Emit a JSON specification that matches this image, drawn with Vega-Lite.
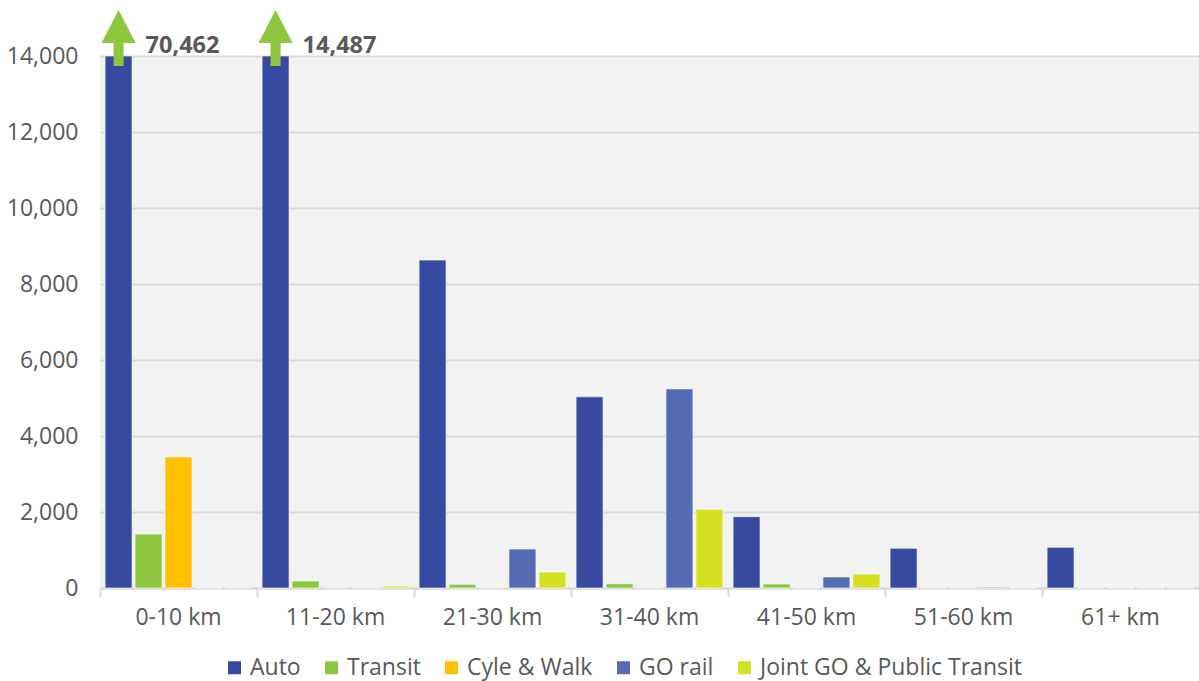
{
  "$schema": "https://vega.github.io/schema/vega-lite/v6.json",
  "autosize": {"type": "none"},
  "width": 1099,
  "height": 532,
  "padding": {"left": 100, "top": 56, "right": 0, "bottom": 93},
  "background": "white",
  "config": {
    "view": {"stroke": null, "fill": "#f2f2f2"},
    "font": "Open Sans"
  },
  "data": {
    "values": [
      {"range": "0-10 km", "mode": "Auto", "trips": 70462},
      {"range": "0-10 km", "mode": "Transit", "trips": 1420},
      {"range": "0-10 km", "mode": "Cyle & Walk", "trips": 3450},
      {"range": "0-10 km", "mode": "GO rail", "trips": 0},
      {"range": "0-10 km", "mode": "Joint GO & Public Transit", "trips": 0},
      {"range": "11-20 km", "mode": "Auto", "trips": 14487},
      {"range": "11-20 km", "mode": "Transit", "trips": 184},
      {"range": "11-20 km", "mode": "Cyle & Walk", "trips": 15},
      {"range": "11-20 km", "mode": "GO rail", "trips": 0},
      {"range": "11-20 km", "mode": "Joint GO & Public Transit", "trips": 50},
      {"range": "21-30 km", "mode": "Auto", "trips": 8630},
      {"range": "21-30 km", "mode": "Transit", "trips": 97},
      {"range": "21-30 km", "mode": "Cyle & Walk", "trips": 15},
      {"range": "21-30 km", "mode": "GO rail", "trips": 1026},
      {"range": "21-30 km", "mode": "Joint GO & Public Transit", "trips": 421},
      {"range": "31-40 km", "mode": "Auto", "trips": 5030},
      {"range": "31-40 km", "mode": "Transit", "trips": 110},
      {"range": "31-40 km", "mode": "Cyle & Walk", "trips": 0},
      {"range": "31-40 km", "mode": "GO rail", "trips": 5240},
      {"range": "31-40 km", "mode": "Joint GO & Public Transit", "trips": 2070},
      {"range": "41-50 km", "mode": "Auto", "trips": 1877},
      {"range": "41-50 km", "mode": "Transit", "trips": 105},
      {"range": "41-50 km", "mode": "Cyle & Walk", "trips": 0},
      {"range": "41-50 km", "mode": "GO rail", "trips": 290},
      {"range": "41-50 km", "mode": "Joint GO & Public Transit", "trips": 368},
      {"range": "51-60 km", "mode": "Auto", "trips": 1044},
      {"range": "51-60 km", "mode": "Transit", "trips": 0},
      {"range": "51-60 km", "mode": "Cyle & Walk", "trips": 0},
      {"range": "51-60 km", "mode": "GO rail", "trips": 18},
      {"range": "51-60 km", "mode": "Joint GO & Public Transit", "trips": 0},
      {"range": "61+ km", "mode": "Auto", "trips": 1070},
      {"range": "61+ km", "mode": "Transit", "trips": 0},
      {"range": "61+ km", "mode": "Cyle & Walk", "trips": 0},
      {"range": "61+ km", "mode": "GO rail", "trips": 0},
      {"range": "61+ km", "mode": "Joint GO & Public Transit", "trips": 0}
    ]
  },
  "encoding": {
    "x": {
      "field": "range",
      "type": "nominal",
      "sort": null,
      "title": null,
      "scale": {"paddingInner": 0, "paddingOuter": 0},
      "axis": {
        "labelAngle": 0,
        "labelFontSize": 23,
        "labelColor": "#595959",
        "labelPadding": 9,
        "labelBaseline": "top",
        "bandPosition": 0,
        "ticks": true,
        "tickSize": 9,
        "tickColor": "#d9d9d9",
        "tickWidth": 2,
        "domainColor": "#d9d9d9",
        "domainWidth": 2,
        "grid": false
      }
    },
    "xOffset": {
      "field": "mode",
      "type": "nominal",
      "scale": {
        "domain": ["Auto", "Transit", "Cyle & Walk", "GO rail", "Joint GO & Public Transit"],
        "paddingInner": 0.1,
        "paddingOuter": 0.17
      }
    },
    "y": {
      "field": "trips",
      "type": "quantitative",
      "title": null,
      "scale": {"domain": [0, 14000], "clamp": true, "nice": false},
      "axis": {
        "values": [0, 2000, 4000, 6000, 8000, 10000, 12000, 14000],
        "format": ",d",
        "labelFontSize": 23,
        "labelColor": "#595959",
        "labelPadding": 22,
        "ticks": false,
        "domain": false,
        "gridColor": "#d9d9d9",
        "gridWidth": 2
      }
    }
  },
  "layer": [
    {
      "mark": {"type": "bar", "stroke": "white", "strokeOpacity": 0.6, "strokeWidth": 1},
      "encoding": {
        "color": {
          "field": "mode",
          "type": "nominal",
          "scale": {
            "domain": ["Auto", "Transit", "Cyle & Walk", "GO rail", "Joint GO & Public Transit"],
            "range": ["#384aa0", "#8dc63f", "#ffc000", "#546cb4", "#d7df23"]
          },
          "legend": {
            "title": null,
            "orient": "none",
            "legendX": 123,
            "legendY": 600,
            "padding": 0,
            "direction": "horizontal",
            "symbolType": "square",
            "symbolSize": 169,
            "symbolStrokeWidth": 0,
            "labelFontSize": 23,
            "labelColor": "#595959",
            "labelLimit": 0,
            "labelOffset": 4,
            "columnPadding": 19
          }
        }
      }
    },
    {
      "transform": [{"filter": "datum.trips > 14000"}],
      "mark": {
        "type": "point",
        "shape": "M0,-1 L0.61,0.18 L0.18,0.18 L0.18,1 L-0.18,1 L-0.18,0.18 L-0.61,0.18 Z",
        "filled": true,
        "fill": "#8dc63f",
        "opacity": 1,
        "size": 3136,
        "strokeWidth": 0,
        "yOffset": -18
      },
      "encoding": {}
    },
    {
      "transform": [{"filter": "datum.trips > 14000"}],
      "mark": {
        "type": "text",
        "align": "left",
        "baseline": "alphabetic",
        "dx": 27,
        "dy": -3,
        "fontSize": 23.5,
        "fontWeight": "bold",
        "color": "#595959"
      },
      "encoding": {
        "text": {"field": "trips", "type": "quantitative", "format": ","}
      }
    }
  ]
}
